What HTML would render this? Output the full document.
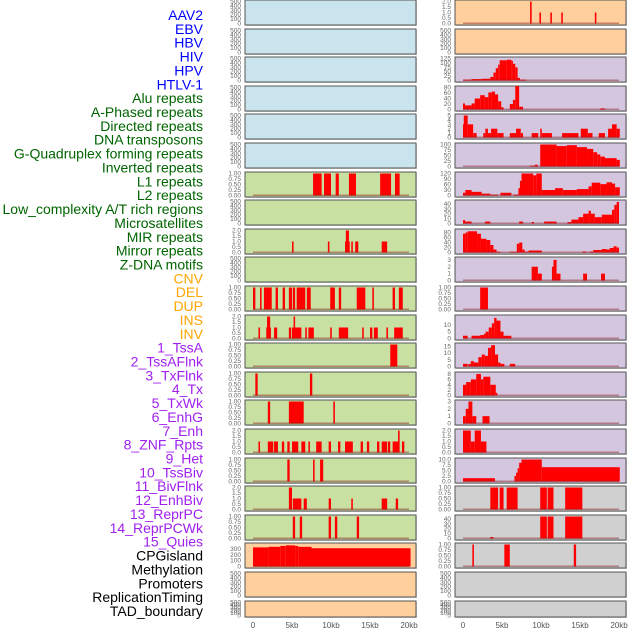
<!DOCTYPE html>
<html><head><meta charset="utf-8">
<style>
body{margin:0;background:#fff;}
svg{display:block;font-family:"Liberation Sans",sans-serif;}
</style></head>
<body>
<svg id="chart" width="630" height="630" viewBox="0 0 630 630" xmlns="http://www.w3.org/2000/svg"></svg>
<script>
// ---- data ----
const featureLabels = ["AAV2","EBV","HBV","HIV","HPV","HTLV-1","Alu repeats","A-Phased repeats","Directed repeats","DNA transposons","G-Quadruplex forming repeats","Inverted repeats","L1 repeats","L2 repeats","Low_complexity A/T rich regions","Microsatellites","MIR repeats","Mirror repeats","Z-DNA motifs","CNV","DEL","DUP","INS","INV","1_TssA","2_TssAFlnk","3_TxFlnk","4_Tx","5_TxWk","6_EnhG","7_Enh","8_ZNF_Rpts","9_Het","10_TssBiv","11_BivFlnk","12_EnhBiv","13_ReprPC","14_ReprPCWk","15_Quies","CPGisland","Methylation","Promoters","ReplicationTiming","TAD_boundary"];
const labelGroups = [6,13,5,15,5];
const xTickValues = [0,5,10,15,20];
const xTickLabels = ["0","5kb","10kb","15kb","20kb"];

const T1 = ["0.00","0.25","0.50","0.75","1.00"], T2 = ["0.0","0.5","1.0","1.5","2.0"], TE = ["0","100","200","300","400","500"];
// left column: [ymax, tickValues, tickLabels, segments [startKb,endKb,value]]
const leftYmax = [500,500,500,500,500,500,1,500,2,500,1,2,1,1,1,2,1,2,1,380,500,500];
const leftSegs = [
 [],[],[],[],[],[],
 [[7.7,8.8,1],[9.1,10.0,1],[10.6,11.0,1],[12.3,13.2,1],[16.3,17.7,1],[18.2,18.8,1]],
 [],
 [[5.0,5.2,1],[9.6,9.8,1],[11.8,12.4,1],[11.9,12.3,2],[12.6,12.8,1],[13.1,13.5,1],[16.5,17.2,1]],
 [],
 [[0.0,0.3,1],[0.9,1.1,1],[1.4,2.4,1],[2.9,3.2,1],[3.8,4.1,1],[4.6,5.0,1],[5.1,5.4,1],[5.6,6.7,1],[6.9,7.4,1],[9.9,10.5,1],[11.0,11.3,1],[13.3,14.4,1],[15.3,15.5,1],[17.9,18.2,1],[18.7,19.2,1]],
 [[0.7,0.9,1],[1.7,2.3,1],[1.8,2.2,2],[2.7,3.1,1],[4.6,4.9,1],[5.0,6.2,1],[5.2,5.4,2],[6.7,6.9,1],[7.1,7.8,1],[9.9,10.1,1],[11.0,12.2,1],[14.0,14.2,1],[15.0,15.3,1],[15.5,16.0,1],[17.1,17.3,1],[18.1,19.2,1]],
 [[17.6,18.5,1]],
 [[0.3,0.6,1],[7.3,7.6,1]],
 [[1.9,2.2,1],[4.6,6.5,1],[10.3,10.5,1]],
 [[0.7,0.9,1],[1.9,2.6,1],[2.7,3.2,1],[3.7,4.0,1],[4.4,4.7,1],[5.0,5.8,1],[6.2,6.7,1],[7.1,7.3,1],[8.1,8.8,1],[9.7,10.0,1],[10.9,11.2,1],[11.8,12.8,1],[13.8,14.1,1],[14.6,14.9,1],[15.9,16.2,1],[16.5,17.2,1],[17.3,17.6,1],[17.9,18.7,1],[18.6,18.8,2],[19.1,19.4,1]],
 [[4.4,4.7,1],[7.7,7.9,1],[8.6,9.0,1]],
 [[4.6,5.0,2],[5.1,6.2,1],[6.5,6.9,1],[9.7,10.0,1],[12.6,12.8,1],[16.5,17.2,1],[18.3,18.6,1]],
 [[5.1,5.4,1],[6.0,6.3,1],[9.7,10.0,1],[10.5,10.8,1],[13.3,13.6,1]],
 [[0,2,330],[2,3.5,340],[3.5,4.2,355],[4.2,5.4,365],[5.4,5.8,355],[5.8,7.5,340],[7.5,20.2,315]],
 [],[]
];
const leftTickSets = [TE,TE,TE,TE,TE,TE,T1,TE,T2,TE,T1,T2,T1,T1,T1,T2,T1,T2,T1,["0","100","200","300"],TE,TE];

const rightYmax = [2,500,125,80,5,100,120,45,88,3.2,1,16,16.5,8.2,3,2,10,1,45,1,500,500];
const rightTickSets = [T2,TE,["0","25","50","75","100","125"],["0","20","40","60","80"],["0","1","2","3","4","5"],["0","25","50","75","100"],["0","30","60","90","120"],["0","10","20","30","40"],["0","20","40","60","80"],["0","1","2","3"],T1,["0","5","10"],["0","5","10","15"],["0","2","4","6","8"],["0","1","2","3"],T2,["0.0","2.5","5.0","7.5","10.0"],T1,["0","10","20","30","40"],T1,TE,TE];
const rightSegs = [
 [[8.6,8.8,2],[9.8,10.0,1],[11.2,11.4,1],[12.6,12.8,1],[16.9,17.1,1]],
 [],
 [[0,1.1,5],[1.1,2.4,8],[2.4,3.5,10],[3.5,3.9,20],[3.9,4.2,45],[4.2,4.5,70],[4.5,4.7,90],[4.7,5.6,115],[5.6,6.2,118],[6.2,6.4,112],[6.4,6.7,95],[6.7,7.0,75],[7.0,7.3,15],[7.3,8.1,5]],
 [[0,0.26,22],[0.26,1.1,15],[1.1,1.5,22],[1.5,2.2,40],[2.2,2.8,52],[2.8,3.25,45],[3.25,3.7,62],[3.7,4.1,65],[4.1,4.5,55],[4.5,4.9,30],[4.9,5.2,8],[6.0,6.4,20],[6.4,6.7,35],[6.7,7.2,85],[7.2,7.7,10],[17.6,18.2,4]],
 [[0,0.1,3],[0.1,0.6,5],[0.6,1.3,3],[1.3,1.75,1],[2.6,2.86,1],[2.86,3.2,2],[3.2,3.6,1],[3.6,4.4,2],[4.4,5.2,1],[6.0,6.8,1],[6.8,7.4,2],[7.4,7.7,1],[8.8,9.65,1],[9.9,10.1,2],[10.1,11.4,1],[12.7,14.8,1],[15.1,16.0,2],[16.0,16.6,1],[17.4,18.2,1],[18.6,19.1,2],[19.1,19.7,3],[19.7,20.1,2]],
 [[8.6,9.2,4],[9.2,9.6,8],[9.9,12.0,100],[12.0,13.3,93],[13.3,14.6,97],[14.6,15.9,88],[15.9,16.7,80],[16.7,17.2,65],[17.2,17.6,55],[17.6,18.2,45],[18.2,19.7,38],[19.7,20.1,30]],
 [[0,0.3,15],[0.3,1.1,30],[1.1,2.4,20],[2.4,3.5,10],[3.5,4.5,5],[4.8,6.2,15],[6.45,7.1,5],[7.1,7.3,40],[7.3,7.5,80],[7.5,9.0,120],[9.0,9.4,110],[9.4,10.1,120],[10.1,11.8,30],[11.8,12.8,40],[12.8,14.6,30],[14.6,16.1,35],[16.1,16.5,50],[16.5,17.6,70],[17.6,18.4,62],[18.4,19.1,72],[19.1,19.5,65],[19.5,20.1,45]],
 [[0,0.26,7],[0.26,1.1,4],[2.8,3.5,4],[7.2,7.7,4],[8.8,9.1,3],[10.4,12.0,4],[13.4,13.9,3],[13.9,14.8,8],[14.8,15.4,13],[15.4,16.1,20],[16.1,16.4,26],[16.4,16.9,20],[16.9,17.8,13],[17.8,19.1,18],[19.1,19.4,28],[19.4,19.7,38],[19.7,20.0,44]],
 [[0,0.3,75],[0.3,0.6,80],[0.6,1.8,85],[1.8,2.3,75],[2.3,3.0,55],[3.0,3.5,50],[3.5,3.9,30],[3.9,4.3,12],[4.3,4.8,3],[6.0,6.9,3],[6.9,7.2,35],[7.2,7.6,40],[7.6,7.9,12],[7.9,8.4,4],[8.4,10.1,8],[15.3,15.8,4],[16.2,16.7,4],[16.7,17.8,10],[17.8,18.4,14],[18.4,18.8,12],[18.8,19.3,18],[19.3,19.7,25],[19.7,20.0,20]],
 [[8.8,9.6,2],[9.6,10.1,1],[11.4,11.6,2],[11.6,12.0,3],[12.0,12.5,1],[15.4,15.9,1],[17.7,18.2,1]],
 [[2.2,3.2,1]],
 [[0,0.6,2],[1.1,2.2,2],[2.2,2.7,2.5],[2.7,2.9,3.5],[2.9,3.3,5],[3.3,3.7,8],[3.7,4.0,11],[4.0,4.3,15],[4.3,4.8,13],[4.8,5.2,5],[5.2,6.2,2]],
 [[0,0.6,2],[0.7,1.0,2],[1.0,1.4,4],[1.4,1.97,3],[1.97,2.4,7],[2.4,2.8,9],[2.8,3.2,8],[3.2,3.6,14],[3.6,4.1,16],[4.1,4.5,9],[4.5,4.8,3],[4.8,5.3,2],[6.0,6.7,2]],
 [[0,0.4,4],[0.4,1.0,5],[1.0,1.7,6],[1.7,2.3,8],[2.3,2.6,6],[2.6,3.5,7],[3.5,4.2,4],[4.2,4.4,1]],
 [[0,0.35,1],[0.35,0.7,2],[0.7,1.2,3],[1.2,1.7,1],[2.5,3.4,1]],
 [[0,1.0,2],[1.0,1.5,1],[1.5,2.3,2],[2.3,3.0,1]],
 [[0,4.1,1.5],[6.6,6.8,2.5],[6.8,7.0,4],[7.0,7.2,6],[7.2,7.5,8.5],[7.5,10.1,10],[10.1,20.1,6.5]],
 [[3.5,4.5,1],[4.7,5.2,1],[5.6,7.0,1],[9.9,10.75,1],[10.85,11.6,1],[13.1,15.3,1]],
 [[3.5,3.9,3],[9.9,10.75,45],[10.85,11.6,45],[13.1,15.3,45]],
 [[1.2,1.4,1],[5.3,6.0,1],[14.2,14.5,1]],
 [],[]
];

// ---- layout ----
const NS = "http://www.w3.org/2000/svg";
const svg = document.getElementById("chart");
function mk(tag, attrs, parent){const e=document.createElementNS(NS,tag);for(const k in attrs)e.setAttribute(k,attrs[k]);(parent||svg).appendChild(e);return e;}
const leftBg = i => i<6?"#c9e4ec":(i<19?"#c8e0a2":"#ffd09e");
const rightBg = i => i<2?"#ffd09e":(i<17?"#d5c6e0":"#d0d0d0");
const colX = [{x0:245,x1:416,z:253},{x0:455,x1:626,z:463}];
const kbPx = 7.8;
function rowTop(i){return Math.round(i*28.6);}
function rowH(i){return i===21?16:25;}

// labels
const labelColors=["#0000ff","#006400","#ffa500","#a020f0","#000000"];
let li=0;
labelGroups.forEach((n,g)=>{for(let k=0;k<n;k++){
  const t=mk("text",{x:203,y:15+li*13.86+5,"text-anchor":"end","font-size":"14",fill:labelColors[g]});
  t.textContent=featureLabels[li];
  
  
  li++;}});

function drawPanel(side,i,ymax,ticks,segs,bg){
  const c=colX[side], top=rowTop(i), h=rowH(i);
  const g=mk("g",{});
  
  
  mk("rect",{x:c.x0+1,y:top+1,width:c.x1-c.x0,height:h,fill:"#aaa",opacity:0.5},g);
  mk("rect",{x:c.x0,y:top,width:c.x1-c.x0,height:h,fill:bg,stroke:"#555","stroke-width":1},g);
  const yb=top+h-1.5, yt=top+1.5;
  const yS=v=>yb-(v/ymax)*(yb-yt);
  const xS=kb=>c.z+kb*kbPx;
  segs.forEach(s=>{
    const b=mk("rect",{x:xS(s[0]),y:yS(s[2]),width:Math.max(1.2,xS(s[1])-xS(s[0])),height:yb-yS(s[2]),fill:"#ff0000"},g);
    
    
  });
  if(segs.length) mk("rect",{x:xS(0),y:yb-1,width:20*kbPx,height:1.5,fill:"#8b1a1a",opacity:0.45},g);
  const n=ticks.length;
  ticks.forEach((lab,k)=>{
    const v=parseFloat(lab);
    const t=mk("text",{x:c.x0-4,y:yS(v)+2,"text-anchor":"end","font-size":"6.5",fill:"#666"},g);
    t.textContent=lab;
    
    
  });
}
for(let i=0;i<22;i++){
  drawPanel(0,i,leftYmax[i],leftTickSets[i],leftSegs[i],leftBg(i));
  drawPanel(1,i,rightYmax[i],rightTickSets[i],rightSegs[i],rightBg(i));
}
// x axes
colX.forEach((c,side)=>{
  xTickValues.forEach((v,k)=>{
    const t=mk("text",{x:c.z+v*kbPx,y:628,"text-anchor":"middle","font-size":"8",fill:"#555"});
    t.textContent=xTickLabels[k];
    
    
  });
});
</script>
</body></html>
